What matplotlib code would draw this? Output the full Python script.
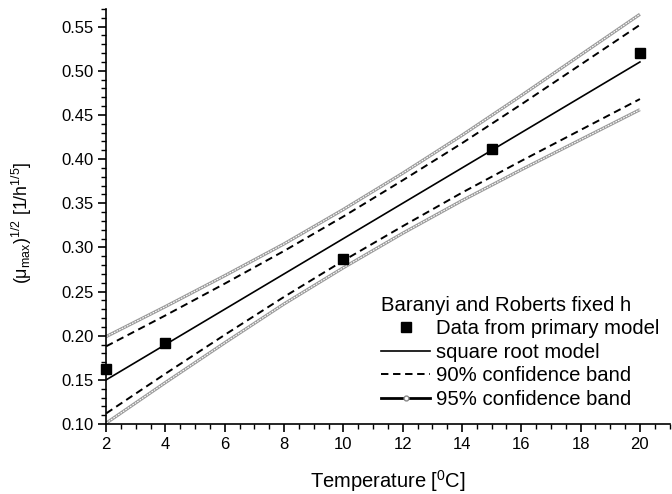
import matplotlib
matplotlib.use('Agg')
import matplotlib.pyplot as plt
from matplotlib.lines import Line2D
from matplotlib.ticker import MultipleLocator

plt.rcParams['font.family'] = ['Liberation Sans', 'DejaVu Sans']
plt.rcParams['mathtext.fontset'] = 'custom'
plt.rcParams['mathtext.rm'] = 'Liberation Sans'
plt.rcParams['mathtext.it'] = 'Liberation Sans:italic'
plt.rcParams['mathtext.default'] = 'regular'

# measured points
temp_data = [2, 4, 10, 15, 20]
sqrt_mu_data = [0.162, 0.192, 0.287, 0.411, 0.520]

# model line and confidence bands
temp_fit = [2, 4, 6, 8, 10, 12, 14, 16, 18, 20]
model = [0.150, 0.190, 0.230, 0.270, 0.310, 0.350, 0.390, 0.430, 0.470, 0.510]
upper90 = [0.188, 0.223, 0.259, 0.296, 0.335, 0.376, 0.418, 0.462, 0.507, 0.552]
lower90 = [0.112, 0.157, 0.201, 0.244, 0.285, 0.324, 0.362, 0.398, 0.433, 0.468]
upper95 = [0.199, 0.233, 0.268, 0.304, 0.343, 0.384, 0.427, 0.472, 0.518, 0.564]
lower95 = [0.101, 0.147, 0.192, 0.236, 0.277, 0.316, 0.353, 0.388, 0.422, 0.456]

fig = plt.figure(figsize=(6.72, 4.94), dpi=100, facecolor='white')
ax = fig.add_axes([0.158, 0.1417, 0.8384, 0.8401])

dash90 = (0, (3.8, 2.4))
for band in (upper95, lower95):
    ax.plot(temp_fit, band, color='#9a9a9a', lw=2.3, solid_capstyle='butt', zorder=2)
    ax.plot(temp_fit, band, color='white', lw=0.8, linestyle=(0, (1.6, 1.0)), zorder=2.1)
for band in (upper90, lower90):
    ax.plot(temp_fit, band, color='black', lw=1.4, linestyle=dash90, zorder=3)
ax.plot(temp_fit, model, color='black', lw=1.2, zorder=3)
ax.plot(temp_data, sqrt_mu_data, linestyle='none', marker='s', color='black',
        markersize=7.5, zorder=4, clip_on=False)

ax.set_xlim(2, 21)
ax.set_ylim(0.10, 0.57)
ax.set_xticks(range(2, 21, 2))
ax.xaxis.set_minor_locator(MultipleLocator(0.5))
ax.set_yticks([0.10, 0.15, 0.20, 0.25, 0.30, 0.35, 0.40, 0.45, 0.50, 0.55])
ax.yaxis.set_minor_locator(MultipleLocator(0.01))
ax.yaxis.set_major_formatter(matplotlib.ticker.FormatStrFormatter('%.2f'))

for side in ('top', 'right'):
    ax.spines[side].set_visible(False)
for side in ('left', 'bottom'):
    ax.spines[side].set_linewidth(1.2)
ax.tick_params(which='major', direction='out', length=6, width=1.2, labelsize=12, pad=3)
ax.tick_params(which='minor', direction='out', length=3.5, width=1.0)

ax.set_xlabel(r'Temperature [$^{0}$C]', fontsize=14.5, labelpad=12)
ax.set_ylabel(r'($\mu_{max}$)$^{1/2}$ [1/h$^{1/5}$]', fontsize=12.8)
ax.yaxis.set_label_coords(-0.128, 0.485)

handles = [
    Line2D([], [], linestyle='none', marker='s', color='black', markersize=7),
    Line2D([], [], color='black', lw=1.2),
    Line2D([], [], color='black', lw=1.4, linestyle=dash90),
    Line2D([], [], color='black', lw=2.0, marker='o', markersize=3.5,
           markerfacecolor='white', markeredgecolor='#888888', markevery=[1]),
]
labels = ['Data from primary model', 'square root model',
          '90% confidence band', '95% confidence band']
leg = ax.legend(handles, labels, title='Baranyi and Roberts fixed h', loc='lower right',
                bbox_to_anchor=(1.0, 0.012), frameon=False, fontsize=14.6,
                title_fontsize=14.6, handlelength=2.4, handletextpad=0.3,
                labelspacing=0.22, borderpad=0.0, alignment='left')

fig.savefig('out.png', dpi=100, facecolor='white')
